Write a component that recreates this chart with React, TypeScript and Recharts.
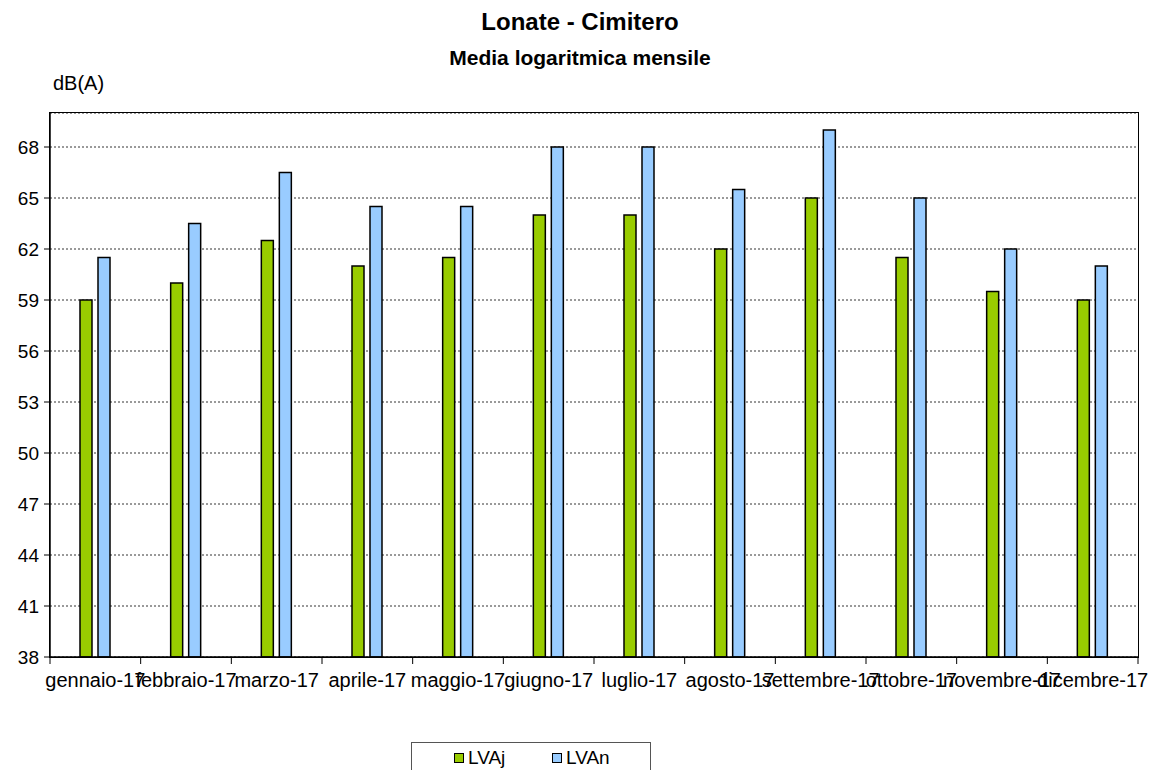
import { Bar, BarChart, CartesianGrid, XAxis, YAxis } from 'recharts';

const months = [
  'gennaio-17', 'febbraio-17', 'marzo-17', 'aprile-17', 'maggio-17', 'giugno-17',
  'luglio-17', 'agosto-17', 'settembre-17', 'ottobre-17', 'novembre-17', 'dicembre-17',
];
const lvaj = [59, 60, 62.5, 61, 61.5, 64, 64, 62, 65, 61.5, 59.5, 59];
const lvan = [61.5, 63.5, 66.5, 64.5, 64.5, 68, 68, 65.5, 69, 65, 62, 61];
const yTicks = [38, 41, 44, 47, 50, 53, 56, 59, 62, 65, 68];

const series = [
  { key: 'LVAj', color: '#99cc00' },
  { key: 'LVAn', color: '#99ccff' },
];

const data = months.map((m, i) => ({ month: m, LVAj: lvaj[i], LVAn: lvan[i] }));

const font = '"Liberation Sans", Arial, sans-serif';
const W = 1160;
const H = 770;
const margin = { top: 113, right: 22, left: 0, bottom: 73 };
const yAxisWidth = 50;
const plotW = W - margin.left - margin.right - yAxisWidth;
const plotH = H - margin.top - margin.bottom - 40;
const band = plotW / months.length;

// Excel-style category axis: label at the centre, tick marks on the boundaries
function MonthTick(props: any) {
  const { x, y, payload, index } = props;
  const half = band / 2;
  return (
    <g>
      <line x1={x - half} x2={x - half} y1={y} y2={y + 7} stroke="#000" />
      {index === months.length - 1 && (
        <line x1={x + half} x2={x + half} y1={y} y2={y + 7} stroke="#000" />
      )}
      <text x={x} y={y} dy={30} textAnchor="middle" fill="#000" fontSize={20} fontFamily={font}>
        {payload.value}
      </text>
    </g>
  );
}

export default function App() {
  return (
    <div style={{ position: 'absolute', left: 0, top: 0, width: W, height: H, background: '#fff', fontFamily: font, color: '#000', overflow: 'hidden' }}>
      <div style={{ position: 'absolute', top: 8, width: W, textAlign: 'center', fontWeight: 'bold', fontSize: 24 }}>
        Lonate - Cimitero
      </div>
      <div style={{ position: 'absolute', top: 46, width: W, textAlign: 'center', fontWeight: 'bold', fontSize: 21 }}>
        Media logaritmica mensile
      </div>
      <div style={{ position: 'absolute', top: 72, left: 53, fontSize: 20 }}>dB(A)</div>

      <BarChart width={W} height={H} data={data} margin={margin} barSize={12} barGap={6}>
        <CartesianGrid vertical={false} stroke="#000" strokeDasharray="2 2" strokeWidth={0.8} />
        <XAxis
          dataKey="month"
          height={40}
          axisLine={{ stroke: '#000', strokeWidth: 1.5 }}
          tickLine={false}
          tickSize={0}
          tickMargin={0}
          interval={0}
          tick={<MonthTick />}
        />
        <YAxis
          domain={[38, 70]}
          ticks={yTicks}
          width={yAxisWidth}
          axisLine={{ stroke: '#000', strokeWidth: 1.5 }}
          tickLine={{ stroke: '#000' }}
          tickSize={6}
          tickMargin={5}
          tick={{ fill: '#000', fontSize: 19, fontFamily: font }}
        />
        {series.map((s) => (
          <Bar
            key={s.key}
            dataKey={s.key}
            fill={s.color}
            stroke="#000"
            strokeWidth={1.5}
            isAnimationActive={false}
          />
        ))}
      </BarChart>

      {/* plot frame */}
      <div
        style={{
          position: 'absolute',
          left: margin.left + yAxisWidth - 0.75,
          top: margin.top - 0.75,
          width: plotW + 1.5,
          height: plotH + 1.5,
          border: '1.5px solid #000',
          boxSizing: 'border-box',
          pointerEvents: 'none',
        }}
      />

      <div
        style={{
          position: 'absolute',
          left: 411,
          top: 742,
          width: 240,
          height: 40,
          border: '1px solid #555',
          boxSizing: 'border-box',
          fontSize: 19,
        }}
      >
        {series.map((s, i) => (
          <div key={s.key}>
            <span
              style={{
                position: 'absolute',
                left: 42 + i * 98,
                top: 10,
                width: 10,
                height: 10,
                background: s.color,
                border: '1.5px solid #000',
                boxSizing: 'border-box',
              }}
            />
            <span style={{ position: 'absolute', left: 56 + i * 98, top: 4 }}>{s.key}</span>
          </div>
        ))}
      </div>
    </div>
  );
}
